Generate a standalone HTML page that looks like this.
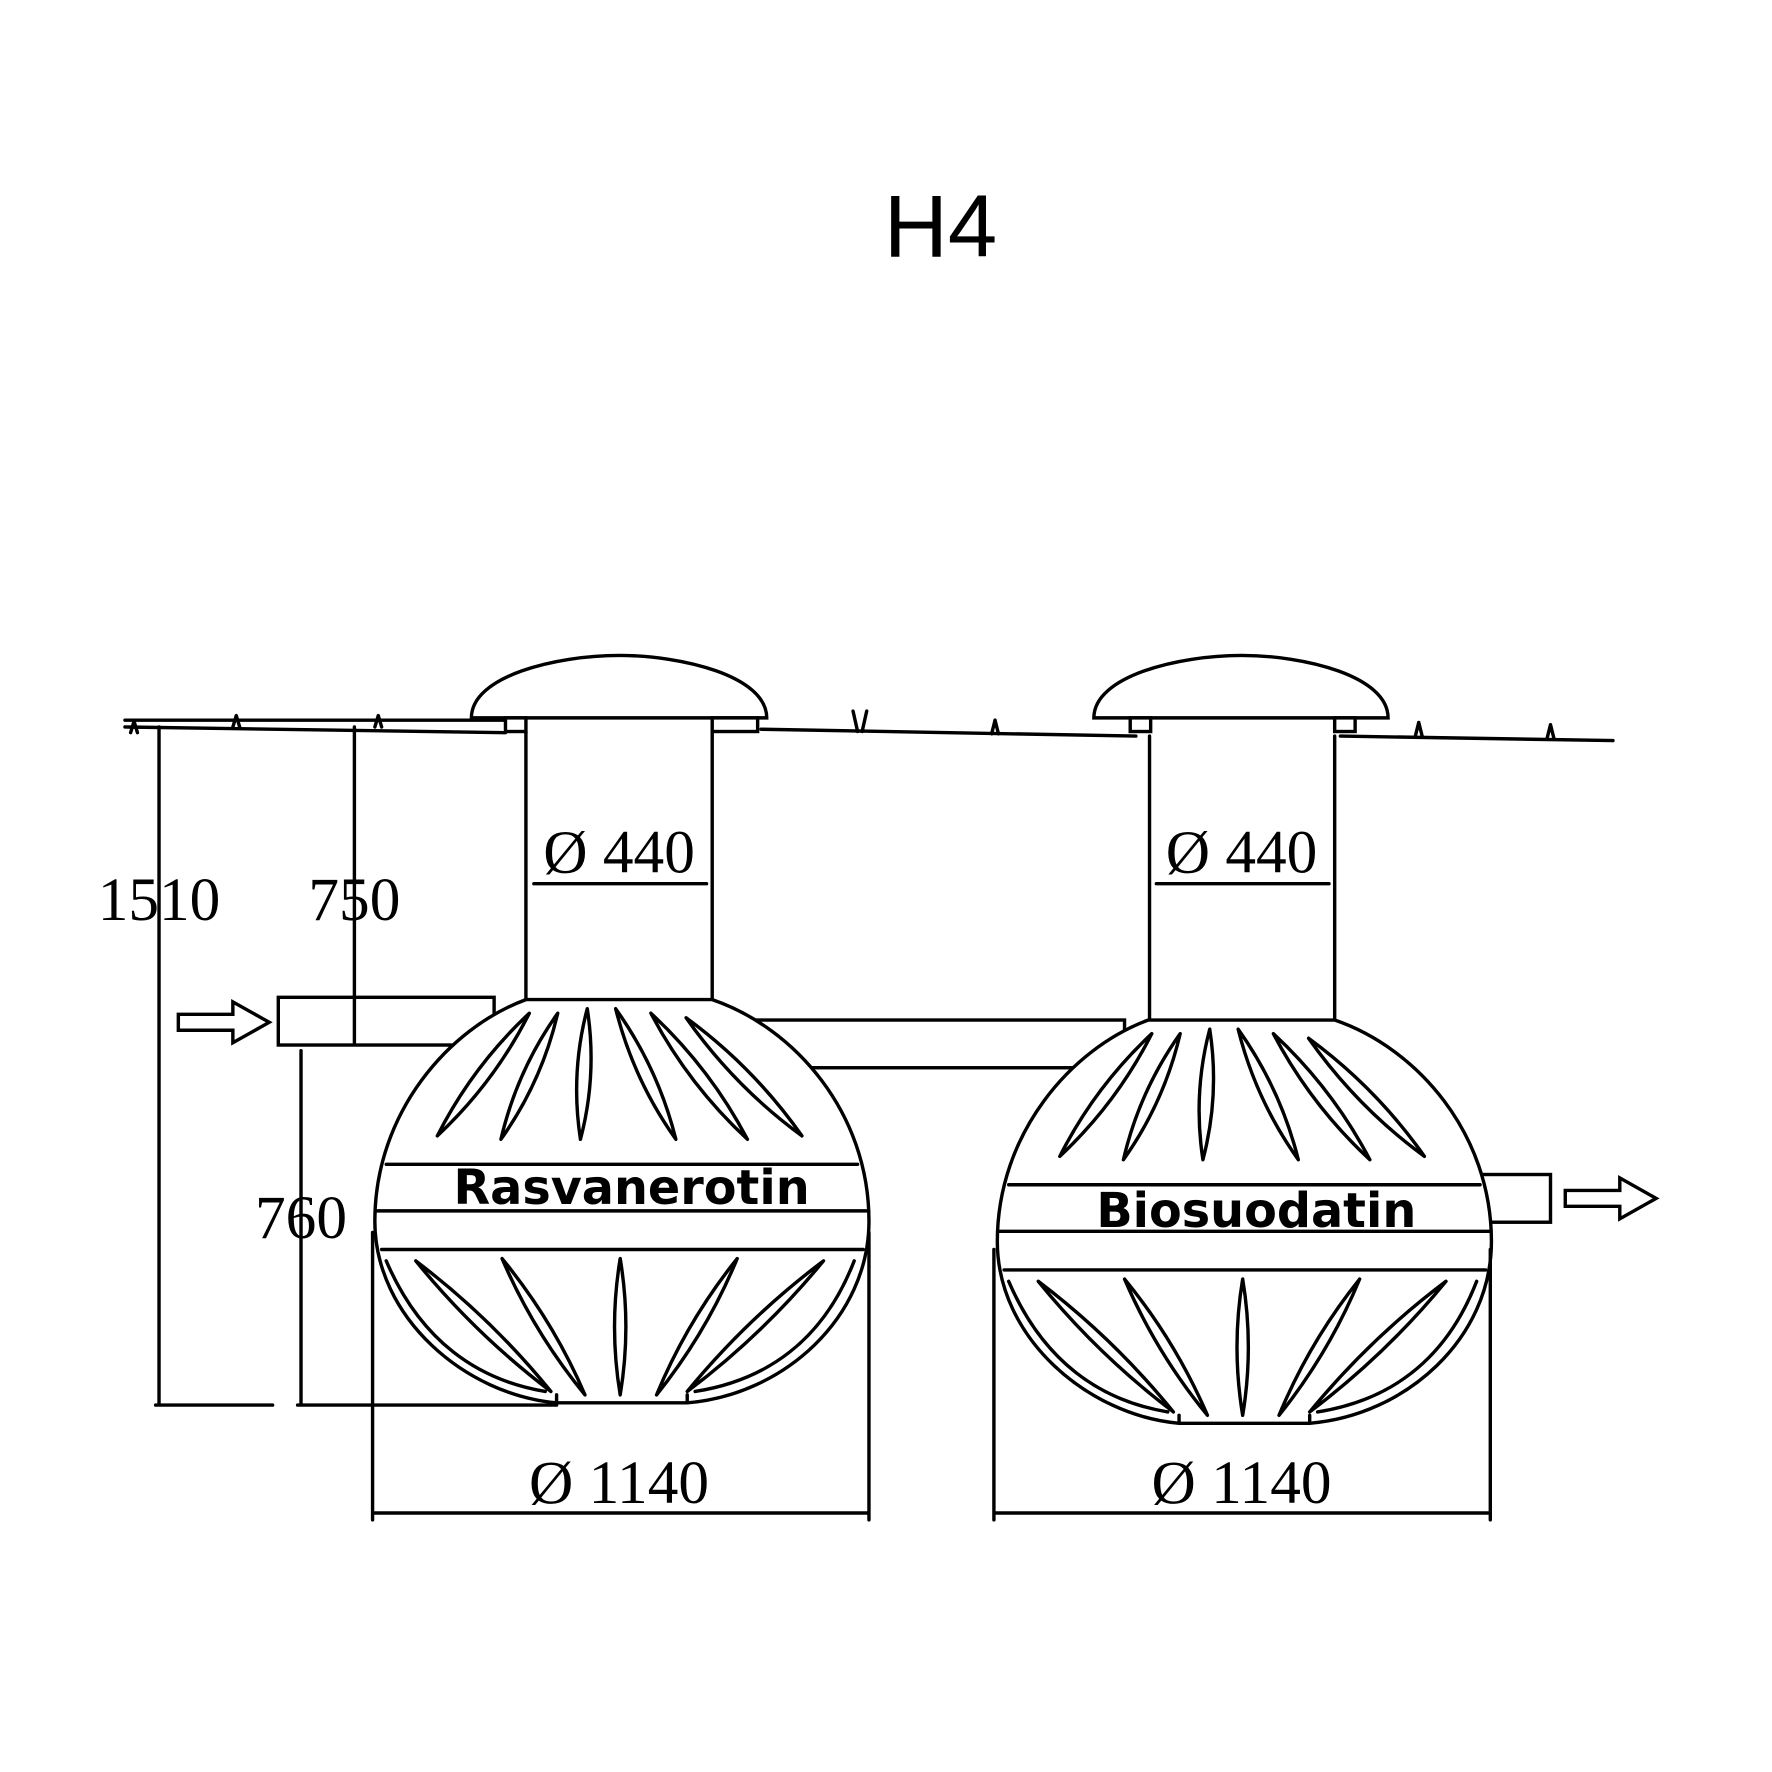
<!DOCTYPE html>
<html><head><meta charset="utf-8"><style>
html,body{margin:0;padding:0;background:#fff}
svg{display:block}
.s{fill:none;stroke:#000;stroke-width:3;stroke-linejoin:round;stroke-linecap:round}
.w{fill:#fff;stroke:#000;stroke-width:3}
.num{font-family:"Liberation Serif",serif;font-size:54px;fill:#000}
.lab{font-family:"DejaVu Sans","Liberation Sans",sans-serif;font-weight:bold;font-size:42px;fill:#000}
</style></head><body>
<svg id="g" width="1772" height="1772" viewBox="0 0 1560 1560" xmlns="http://www.w3.org/2000/svg">
<text x="828" y="226" text-anchor="middle" font-family="Liberation Sans,sans-serif" font-size="78" fill="#000">H4</text>
<path class="s" d="M110,640 L445,645 M110,634 L445,634 M670,642 L1000,648 M1180,648 L1420,652"/>
<g class="s" stroke-width="2">
<path d="M115,645 l3,-10 M121,645 l-3,-10 M205,640 l3,-10 M211,640 l-3,-10 M330,640 l3,-10 M336,640 l-3,-10 M755,644 l-4,-18 M759,644 l4,-18 M873,646 l3,-12 M879,646 l-3,-12 M1246,648 l3,-12 M1252,648 l-3,-12 M1362,650 l3,-12 M1368,650 l-3,-12"/>
</g>
<path class="w" d="M415,632 C415,595 490,577 545,577 C600,577 675,595 675,632 Z"/>
<path class="w" d="M963,632 C963,595 1038,577 1093,577 C1148,577 1222,595 1222,632 Z"/>
<g class="w"><rect x="445" y="632" width="18" height="12"/><rect x="627" y="632" width="40" height="12"/><rect x="995" y="632" width="18" height="12"/><rect x="1175" y="632" width="18" height="12"/></g>
<rect class="w" x="245" y="878" width="190" height="42"/>
<rect class="w" x="660" y="898" width="330" height="42"/>
<rect class="w" x="1300" y="1034" width="65" height="42"/>
<path class="w" d="M157,893 L205,893 L205,882 L237,900 L205,918 L205,907 L157,907 Z"/>
<path class="w" d="M1378,1048 L1426,1048 L1426,1037 L1458,1055 L1426,1073 L1426,1062 L1378,1062 Z"/>
<path class="s" d="M463,644 L463,880 M627,644 L627,880 M1012,648 L1012,910 M1175,648 L1175,910"/>
<text class="num" x="545" y="768" text-anchor="middle">Ø 440</text>
<path class="s" d="M470,778 L622,778"/>
<text class="num" x="1093" y="768" text-anchor="middle">Ø 440</text>
<path class="s" d="M1018,778 L1170,778"/>
<g id="tank"></g>
<text class="lab" x="556" y="1060" text-anchor="middle">Rasvanerotin</text>
<text class="lab" x="1106" y="1080" text-anchor="middle">Biosuodatin</text>
<path class="s" d="M140,640 L140,1237 M137,1237 L240,1237 M312,640 L312,918 M265,925 L265,1237 M262,1237 L490,1237"/>
<text class="num" x="140" y="810" text-anchor="middle">1510</text>
<text class="num" x="312" y="810" text-anchor="middle">750</text>
<text class="num" x="265" y="1090" text-anchor="middle">760</text>
<path class="s" d="M328,1085 L328,1338 M765,1085 L765,1338 M328,1332 L765,1332 M875,1100 L875,1338 M1312,1100 L1312,1338 M875,1332 L1312,1332"/>
<text class="num" x="545" y="1323" text-anchor="middle">Ø 1140</text>
<text class="num" x="1093" y="1323" text-anchor="middle">Ø 1140</text>
</svg>
<script>
function leaf(x0,y0,x1,y1,w,b){
 var dx=x1-x0,dy=y1-y0,L=Math.hypot(dx,dy),nx=-dy/L,ny=dx/L;
 var mx=(x0+x1)/2+nx*b,my=(y0+y1)/2+ny*b;
 return 'M'+x0+','+y0+' Q'+(mx+nx*w)+','+(my+ny*w)+' '+x1+','+y1+' Q'+(mx-nx*w)+','+(my-ny*w)+' '+x0+','+y0+' Z ';
}
function tank(ox,oy){
 var s='<g transform="translate('+ox+','+oy+')">';
 s+='<path class="w" d="M463,880 L627,880 C700,905 765,980 765,1075 C765,1160 690,1228 605,1235 L490,1235 C410,1228 330,1160 330,1075 C330,980 395,905 463,880 Z"/>';
 s+='<path class="s" d="M340,1025 L755,1025 M331,1066 L764,1066 M336,1100 L760,1100 M490,1235 L490,1228 M605,1235 L605,1228"/>';
 var d='';
 var up=[[466,892,385,1000],[491,892,441,1003],[517,888,511,1003],[542,888,595,1003],[573,892,658,1003],[604,896,706,1000]];
 up.forEach(function(a){d+=leaf(a[0],a[1],a[2],a[3],12,0);});
 var lo=[[366,1110,485,1225],[442,1108,515,1228],[546,1108,546,1228],[649,1108,578,1228],[725,1110,605,1225]];
 lo.forEach(function(a){d+=leaf(a[0],a[1],a[2],a[3],10,0);});
 d+='M340,1110 C370,1180 420,1215 480,1225 M752,1110 C725,1180 675,1215 612,1225';
 s+='<path class="s" stroke-width="2.5" d="'+d+'"/></g>';
 return s;
}
document.getElementById('tank').innerHTML=tank(0,0)+tank(548,18);
</script>
</body></html>
